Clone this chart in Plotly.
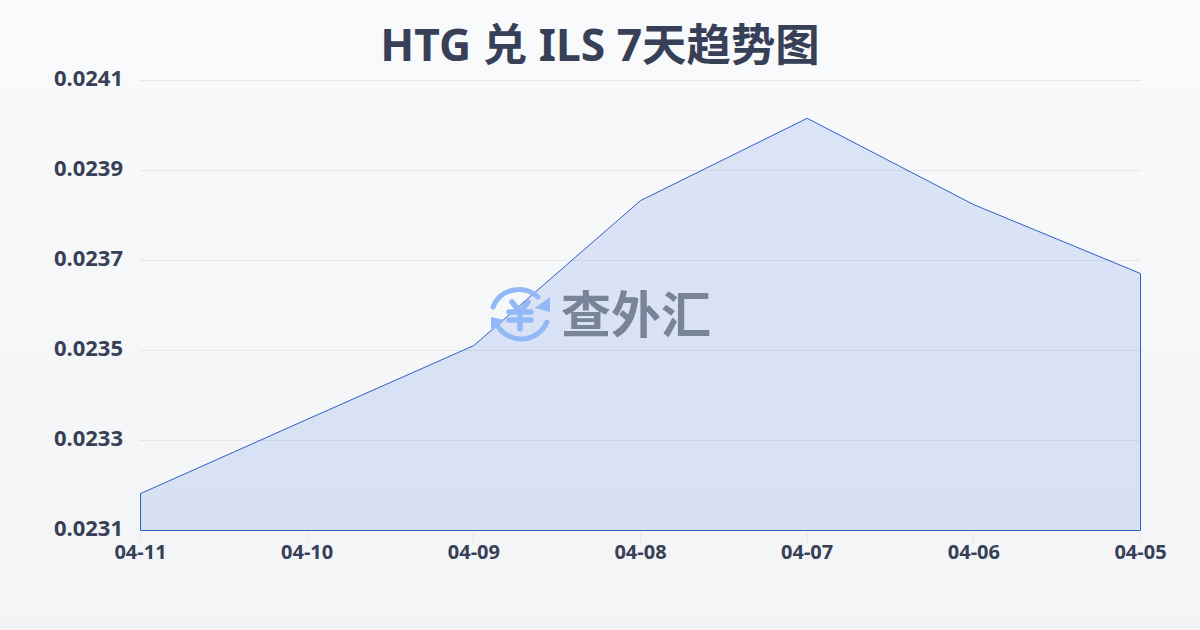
import base64
import plotly.graph_objects as go

dates = ["04-11", "04-10", "04-09", "04-08", "04-07", "04-06", "04-05"]
rates = [0.023182, 0.023347, 0.023511, 0.023833, 0.024016, 0.023824, 0.023671]
y_ticks = [0.0231, 0.0233, 0.0235, 0.0237, 0.0239, 0.0241]
y_labels = ["0.0231", "0.0233", "0.0235", "0.0237", "0.0239", "0.0241"]
baseline = 0.0231
title = "HTG 兑 ILS 7天趋势图"
watermark = "查外汇"

FONT = "'Noto Sans','Noto Sans CJK SC',sans-serif"
INK = "#374056"
HALF_PX_Y = 1.11e-6
TOP_PAD_Y = 2.33e-5
HALF_PX_X = 0.003
PW, PH = 1001, 461


def uri(svg):
    return "data:image/svg+xml;base64," + base64.b64encode(svg.encode()).decode()


bg_svg = ('<svg xmlns="http://www.w3.org/2000/svg" width="1200" height="630" preserveAspectRatio="none">'
          '<defs><linearGradient id="g" x1="0" y1="0" x2="0" y2="1">'
          '<stop offset="0" stop-color="#f8fafc"/><stop offset="1" stop-color="#f3f4f6"/>'
          '</linearGradient></defs><rect width="1200" height="630" fill="url(#g)"/></svg>')

logo_svg = ('<svg xmlns="http://www.w3.org/2000/svg" width="64" height="64" viewBox="0 0 64 64">'
            '<g fill="none" stroke="#93b8f8" stroke-linecap="round">'
            '<path d="M5 24 A28 28 0 0 1 50 14" stroke-width="5"/>'
            '<path d="M59 39 A28 28 0 0 1 9 42" stroke-width="5"/>'
            '<path d="M24 19 L32 29 L40 19 M21 29 H43 M21 37 H43 M32 29 V46" stroke-width="5.5"/></g>'
            '<path d="M62 14 L62 29 L47 25 Z M3 34 L3 49 L17 37 Z" fill="#93b8f8"/></svg>')

fig = go.Figure(go.Scatter(
    x=[dates[0]] + dates + [dates[-1], dates[0]],
    y=[baseline] + rates + [baseline, baseline],
    mode="lines",
    line=dict(color="#2f60c6", width=1),
    fill="toself",
    fillcolor="rgba(59,108,220,0.15)",
    hoverinfo="skip",
))

fig.update_layout(
    width=1200, height=630,
    margin=dict(l=140, r=59, t=70, b=99),
    paper_bgcolor="rgba(0,0,0,0)",
    plot_bgcolor="rgba(0,0,0,0)",
    showlegend=False,
    font=dict(family=FONT, color=INK),
    title=dict(text=title, x=0.5, xanchor="center", y=0.928, yanchor="middle",
               font=dict(size=44.4, family=FONT, color=INK, weight="bold")),
    xaxis=dict(type="category", categoryorder="array", categoryarray=dates,
               range=[-HALF_PX_X, len(dates) - 1 + HALF_PX_X], showgrid=False, zeroline=False, showline=False,
               ticks="outside", ticklen=11, tickcolor="#e5e7eb", tickwidth=1,
               ticklabelstandoff=-8,
               tickfont=dict(size=20, weight="bold", color=INK)),
    yaxis=dict(range=[baseline - HALF_PX_Y, y_ticks[-1] + TOP_PAD_Y], tickmode="array", tickvals=y_ticks, ticktext=y_labels,
               showgrid=True, gridcolor="#e5e7eb", gridwidth=1, zeroline=False, showline=False,
               ticks="", ticklabelstandoff=16, ticklabelshift=-2,
               tickfont=dict(size=22, weight="bold", color=INK)),
    images=[
        dict(source=uri(bg_svg), xref="paper", yref="paper", x=-140 / PW, y=1 + 70 / PH,
             sizex=1200 / PW, sizey=630 / PH, xanchor="left", yanchor="top", sizing="stretch", layer="below"),
        dict(source=uri(logo_svg), xref="paper", yref="paper", x=(520 - 140) / PW, y=(531 - 315) / PH,
             sizex=64 / PW, sizey=64 / PH, xanchor="center", yanchor="middle", sizing="contain", layer="above"),
    ],
    annotations=[dict(text=watermark, xref="paper", yref="paper", x=(636 - 140) / PW, y=(531 - 315) / PH,
                      showarrow=False, xanchor="center", yanchor="middle", yshift=4,
                      font=dict(size=50, family="'Noto Sans CJK SC',sans-serif", color="#7a8499", weight="bold"))],
)

fig.write_html("out.html", config={"displayModeBar": False},
               post_script="document.body.style.margin='0';document.body.style.overflow='hidden';")
